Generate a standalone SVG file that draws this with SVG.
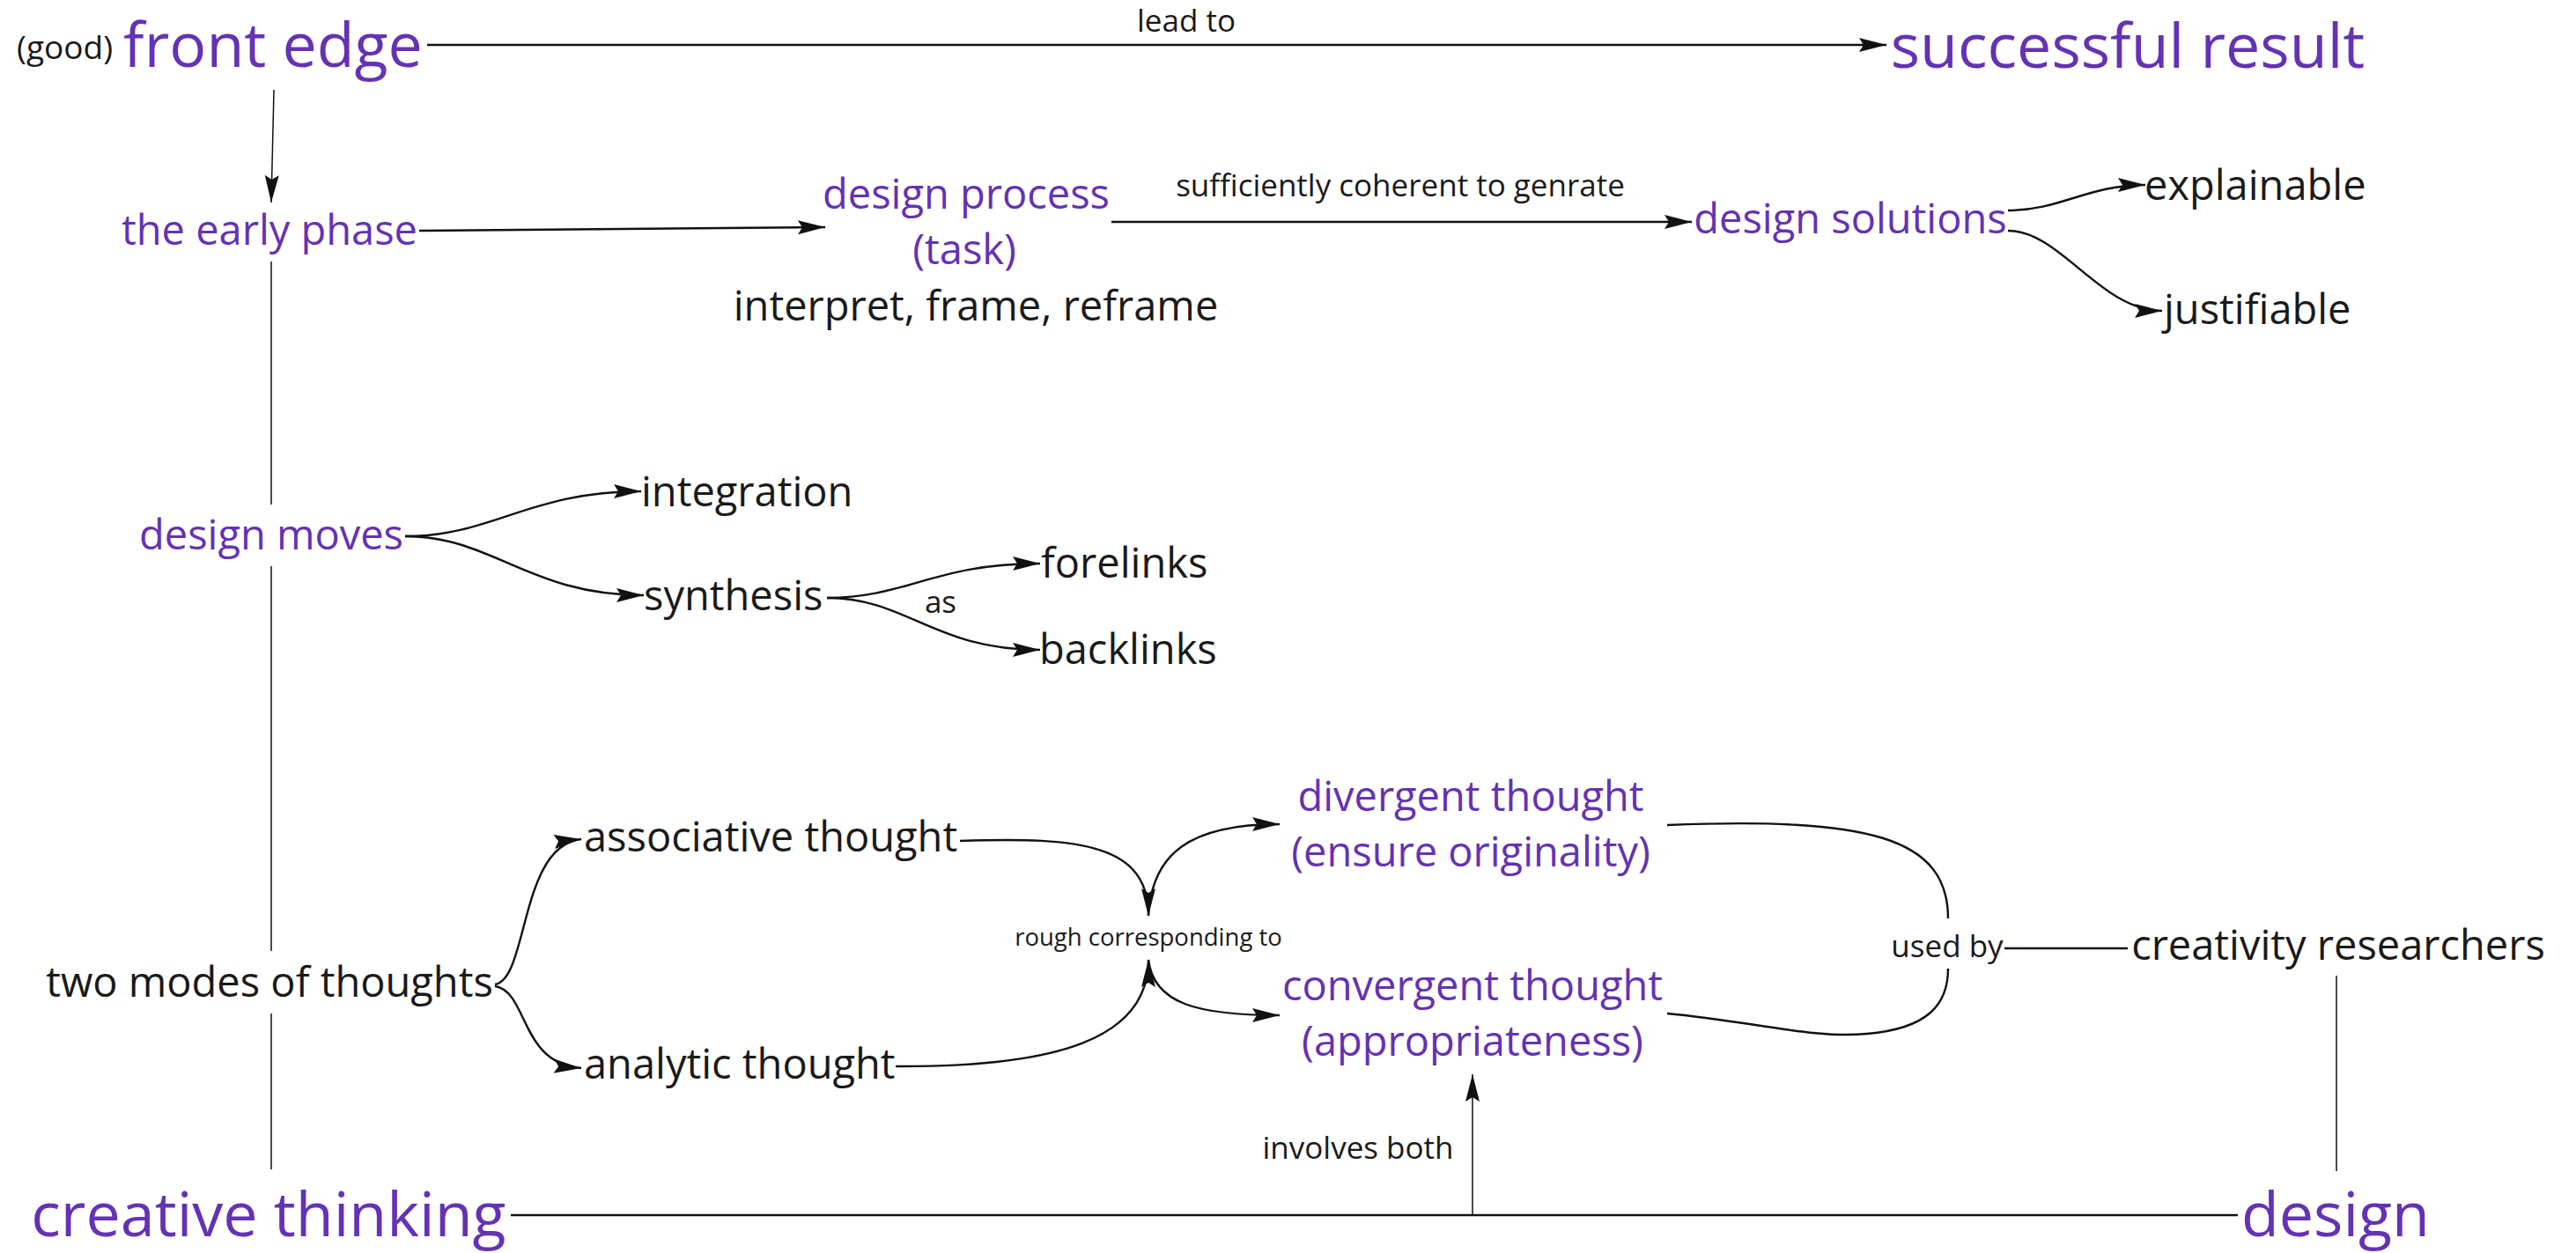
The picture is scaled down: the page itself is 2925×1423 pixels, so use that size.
<svg xmlns="http://www.w3.org/2000/svg" width="2925" height="1423" viewBox="0 0 2925 1423">
<style>
text{font-family:"Open Sans","Noto Sans","Liberation Sans",sans-serif;}
.big{font-size:70px;fill:#6432b4;}
.p{font-size:47px;fill:#6432b4;}
.k{font-size:47px;fill:#1a1a1a;}
.lbl{font-size:35px;fill:#1a1a1a;}
.sm{font-size:27.5px;fill:#1a1a1a;}
.m{text-anchor:middle;}
.c{fill:none;stroke:#111;stroke-width:2.4;}
.t{fill:none;stroke:#111;stroke-width:1.5;}
.a{marker-end:url(#ah);}
</style>
<defs>
<marker id="ah" markerUnits="userSpaceOnUse" markerWidth="32" markerHeight="18" refX="31" refY="9" orient="auto" viewBox="0 0 32 18">
<path d="M0,1 L31,9 L0,17 L5,9 Z" fill="#111"/>
</marker>
</defs>
<rect width="2925" height="1423" fill="#fff"/>
<g id="connectors">
<path class="c a" d="M485,51 L2142,51"/>
<path class="t a" d="M311,102 L308,230"/>
<path class="c a" d="M476,262 L937,258"/>
<path class="c a" d="M1262,252 L1921,252"/>
<path class="c a" d="M2280,239 C2340,239 2370,210 2436,210"/>
<path class="c a" d="M2280,262 C2340,262 2385,353 2455,353"/>
<path class="t" d="M308,297 L308,573 M308,643 L308,1080 M308,1151 L308,1328"/>
<path class="c a" d="M460,609 C560,609 600,558 728,558"/>
<path class="c a" d="M460,609 C560,609 600,676 731,676"/>
<path class="c a" d="M939,679 C1030,679 1060,640 1181,640"/>
<path class="c a" d="M939,679 C1030,679 1060,738 1181,738"/>
<path class="c a" d="M562,1118 C600,1112 590,960 660,953"/>
<path class="c a" d="M562,1120 C600,1126 590,1208 660,1213"/>
<path class="c a" d="M1090,955 C1230,950 1304,960 1304,1040"/>
<path class="c a" d="M1304,1040 C1308,970 1350,936 1453,936"/>
<path class="c a" d="M1017,1211 C1200,1212 1304,1180 1304,1090"/>
<path class="c a" d="M1304,1090 C1310,1140 1360,1153 1453,1153"/>
<path class="c" d="M1893,937 C2120,928 2212,950 2212,1043"/>
<path class="c" d="M1893,1151 C1990,1160 2060,1180 2120,1174 C2190,1168 2212,1140 2212,1100"/>
<path class="c" d="M2276,1077 L2416,1077"/>
<path class="t" d="M2653,1108 L2653,1330"/>
<path class="c" d="M580,1380 L2541,1380"/>
<path class="t a" d="M1672,1380 L1672,1220"/>
<text class="lbl m" x="1347" y="36">lead to</text>
<text class="lbl m" x="1590" y="223">sufficiently coherent to genrate</text>
<text class="lbl m" x="1068" y="696">as</text>
<text class="sm m" x="1304" y="1074">rough corresponding to</text>
<text class="lbl m" x="2211" y="1087">used by</text>
<text class="lbl m" x="1542" y="1316">involves both</text>
</g>
<g id="front-edge"><text x="19" y="67" style="font-size:37px;fill:#1a1a1a">(good)</text><text class="big m" x="310" y="76">front edge</text></g>
<g id="successful-result"><text class="big m" x="2416" y="77">successful result</text></g>
<g id="early-phase"><text class="p m" x="306" y="278">the early phase</text></g>
<g id="design-process"><text class="p m" x="1097" y="237">design process</text><text class="p m" x="1095" y="300">(task)</text><text class="k m" x="1108" y="364">interpret, frame, reframe</text></g>
<g id="design-solutions"><text class="p m" x="2101" y="265">design solutions</text></g>
<g id="explainable"><text class="k" x="2435" y="227">explainable</text></g>
<g id="justifiable"><text class="k" x="2457" y="368">justifiable</text></g>
<g id="design-moves"><text class="p m" x="308" y="624">design moves</text></g>
<g id="integration"><text class="k" x="728" y="575">integration</text></g>
<g id="synthesis"><text class="k" x="731" y="693">synthesis</text></g>
<g id="forelinks"><text class="k" x="1182" y="656">forelinks</text></g>
<g id="backlinks"><text class="k" x="1180" y="754">backlinks</text></g>
<g id="two-modes"><text class="k m" x="306" y="1132">two modes of thoughts</text></g>
<g id="associative"><text class="k" x="663" y="967">associative thought</text></g>
<g id="analytic"><text class="k" x="663" y="1225">analytic thought</text></g>
<g id="divergent"><text class="p m" x="1670" y="921">divergent thought</text><text class="p m" x="1670" y="984">(ensure originality)</text></g>
<g id="convergent"><text class="p m" x="1672" y="1136">convergent thought</text><text class="p m" x="1672" y="1199">(appropriateness)</text></g>
<g id="creativity-researchers"><text class="k m" x="2655" y="1090">creativity researchers</text></g>
<g id="creative-thinking"><text class="big m" x="305" y="1404">creative thinking</text></g>
<g id="design"><text class="big m" x="2652" y="1404">design</text></g>
</svg>
